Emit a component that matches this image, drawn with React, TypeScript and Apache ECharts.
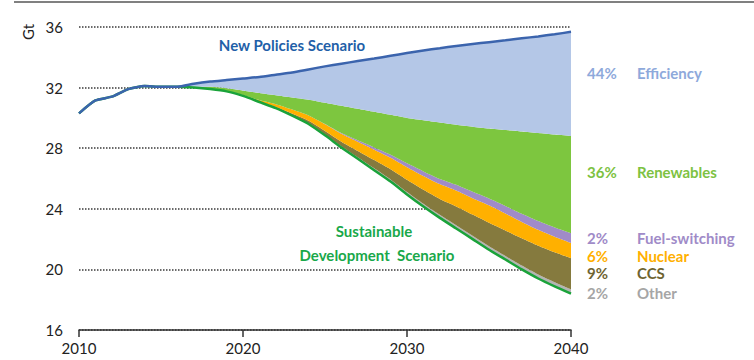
import React, { useEffect, useRef } from "react";
import * as echarts from "echarts";

const years = ["2010", "2011", "2012", "2013", "2014", "2015", "2016", "2017", "2018", "2019", "2020", "2021", "2022", "2023", "2024", "2025", "2026", "2027", "2028", "2029", "2030", "2031", "2032", "2033", "2034", "2035", "2036", "2037", "2038", "2039", "2040"];
const newPolicies = [30.3, 31.15, 31.4, 31.9, 32.1, 32.05, 32.05, 32.25, 32.4, 32.5, 32.6, 32.7, 32.85, 33.0, 33.2, 33.4, 33.58, 33.75, 33.92, 34.1, 34.28, 34.45, 34.6, 34.75, 34.88, 35.0, 35.12, 35.25, 35.38, 35.52, 35.68];
const sustainable = [30.3, 31.15, 31.4, 31.9, 32.1, 32.05, 32.05, 32.0, 31.9, 31.75, 31.45, 31.05, 30.65, 30.15, 29.6, 28.85, 28.05, 27.3, 26.55, 25.8, 24.95, 24.15, 23.4, 22.7, 22.0, 21.3, 20.65, 20.0, 19.4, 18.88, 18.4];
const other = [0, 0, 0, 0, 0, 0, 0, 0, 0, 0, 0, 0, 0, 0.02, 0.04, 0.06, 0.08, 0.1, 0.12, 0.14, 0.16, 0.18, 0.2, 0.21, 0.22, 0.23, 0.24, 0.25, 0.26, 0.27, 0.28];
const ccs = [0, 0, 0, 0, 0, 0, 0, 0, 0, 0, 0.01, 0.03, 0.07, 0.12, 0.17, 0.23, 0.3, 0.42, 0.55, 0.67, 0.8, 0.92, 1.05, 1.25, 1.4, 1.55, 1.68, 1.8, 1.9, 1.98, 2.06];
const nuclear = [0, 0, 0, 0, 0, 0, 0, 0, 0, 0.02, 0.05, 0.1, 0.18, 0.26, 0.35, 0.44, 0.52, 0.6, 0.68, 0.76, 0.84, 0.92, 0.98, 1.04, 1.08, 1.15, 1.12, 1.08, 1.05, 1.02, 1.0];
const fuelSwitching = [0, 0, 0, 0, 0, 0, 0, 0, 0, 0, 0, 0, 0, 0, 0, 0.02, 0.05, 0.1, 0.15, 0.2, 0.25, 0.3, 0.34, 0.38, 0.42, 0.45, 0.5, 0.54, 0.58, 0.62, 0.66];
const renewables = [0, 0, 0, 0, 0, 0, 0, 0.05, 0.15, 0.18, 0.29, 0.47, 0.6, 0.8, 1.04, 1.4, 1.8, 2.08, 2.35, 2.63, 3.0, 3.38, 3.73, 3.97, 4.3, 4.62, 5.01, 5.43, 5.81, 6.13, 6.4];
const efficiency = newPolicies.map(
  (v, i) => +(v - sustainable[i] - other[i] - ccs[i] - nuclear[i] - fuelSwitching[i] - renewables[i]).toFixed(3)
);

const yTicks = { min: 16, max: 36, interval: 4 };
const xLabelEvery = 10;

const legendItems = [
  { pct: "44%", name: "Efficiency", y: 73, color: "#8EA9DB" },
  { pct: "36%", name: "Renewables", y: 172, color: "#7DC242" },
  { pct: "2%", name: "Fuel-switching", y: 238, color: "#A08BC8" },
  { pct: "6%", name: "Nuclear", y: 256, color: "#FFB000" },
  { pct: "9%", name: "CCS", y: 273, color: "#6E6431" },
  { pct: "2%", name: "Other", y: 293, color: "#A6A6A6" },
];

const FONT = "Lato, 'Open Sans', sans-serif";

export default function App() {
  const ref = useRef<HTMLDivElement>(null);
  useEffect(() => {
    if (!ref.current) return;
    document.body.style.margin = "0";
    const chart = echarts.init(ref.current, null, { renderer: "svg" });
    const areaLayer = (name: string, data: number[], color: string) => ({
      name,
      type: "line",
      stack: "total",
      data,
      smooth: 0.2,
      symbol: "none",
      lineStyle: { width: 0, opacity: 0 },
      areaStyle: { color, opacity: 1 },
      z: 2,
    });
    const graphics: any[] = [
      { type: "line", shape: { x1: 14, y1: 2, x2: 754, y2: 2 }, style: { stroke: "#808080", lineWidth: 2 } },
      {
        type: "text", x: 28, y: 32, rotation: Math.PI / 2,
        style: { text: "Gt", font: `15px ${FONT}`, fill: "#222", align: "center", verticalAlign: "middle" },
      },
      {
        type: "text", x: 292, y: 45,
        style: { text: "New Policies Scenario", font: `bold 15px ${FONT}`, fill: "#1F5FA8", align: "center", verticalAlign: "middle" },
      },
      {
        type: "text", x: 374, y: 231,
        style: { text: "Sustainable", font: `bold 15px ${FONT}`, fill: "#19A84A", align: "center", verticalAlign: "middle" },
      },
      {
        type: "text", x: 377, y: 255,
        style: { text: "Development  Scenario", font: `bold 15px ${FONT}`, fill: "#19A84A", align: "center", verticalAlign: "middle" },
      },
    ];
    legendItems.forEach((it) => {
      graphics.push({
        type: "text", x: 587, y: it.y,
        style: { text: it.pct, font: `bold 15px ${FONT}`, fill: it.color, align: "left", verticalAlign: "middle" },
      });
      graphics.push({
        type: "text", x: 637, y: it.y,
        style: { text: it.name, font: `bold 15px ${FONT}`, fill: it.color, align: "left", verticalAlign: "middle" },
      });
    });

    chart.setOption({
      animation: false,
      grid: { left: 79, right: 183, top: 27, bottom: 30, containLabel: false },
      xAxis: {
        type: "category",
        data: years,
        boundaryGap: false,
        axisLine: { show: true, lineStyle: { color: "#333", width: 1.5 } },
        axisTick: {
          show: true, length: 7, lineStyle: { color: "#333", width: 1.5 },
          interval: (i: number) => i % xLabelEvery === 0,
        },
        axisLabel: {
          fontSize: 15, color: "#222", margin: 10, fontFamily: FONT,
          interval: (i: number) => i % xLabelEvery === 0,
        },
        splitLine: { show: false },
      },
      yAxis: {
        type: "value",
        min: yTicks.min,
        max: yTicks.max,
        interval: yTicks.interval,
        axisLine: { show: false },
        axisTick: { show: false },
        axisLabel: { fontSize: 15, color: "#222", margin: 16, fontFamily: FONT },
        splitLine: { show: true, lineStyle: { color: "#6a6a6a", width: 2, type: [1.5, 1.5] } },
      },
      graphic: graphics,
      series: [
        {
          name: "base",
          type: "line",
          stack: "total",
          data: sustainable,
          smooth: 0.2,
          symbol: "none",
          lineStyle: { width: 0, opacity: 0 },
          z: 2,
        },
        areaLayer("Other", other, "#B4B4B4"),
        areaLayer("CCS", ccs, "#857A3E"),
        areaLayer("Nuclear", nuclear, "#FFB000"),
        areaLayer("Fuel-switching", fuelSwitching, "#A08BC8"),
        areaLayer("Renewables", renewables, "#7DC63F"),
        areaLayer("Efficiency", efficiency, "#B4C7E7"),
        {
          name: "Sustainable Development Scenario",
          type: "line",
          data: sustainable,
          smooth: 0.2,
          symbol: "none",
          lineStyle: { color: "#1AA33A", width: 2.5 },
          z: 4,
        },
        {
          name: "New Policies Scenario",
          type: "line",
          data: newPolicies,
          smooth: 0.2,
          symbol: "none",
          lineStyle: { color: "#3B64AD", width: 2.5 },
          z: 5,
        },
      ],
    });
    return () => chart.dispose();
  }, []);
  return <div ref={ref} style={{ width: 754, height: 360, position: "absolute", left: 0, top: 0 }} />;
}
